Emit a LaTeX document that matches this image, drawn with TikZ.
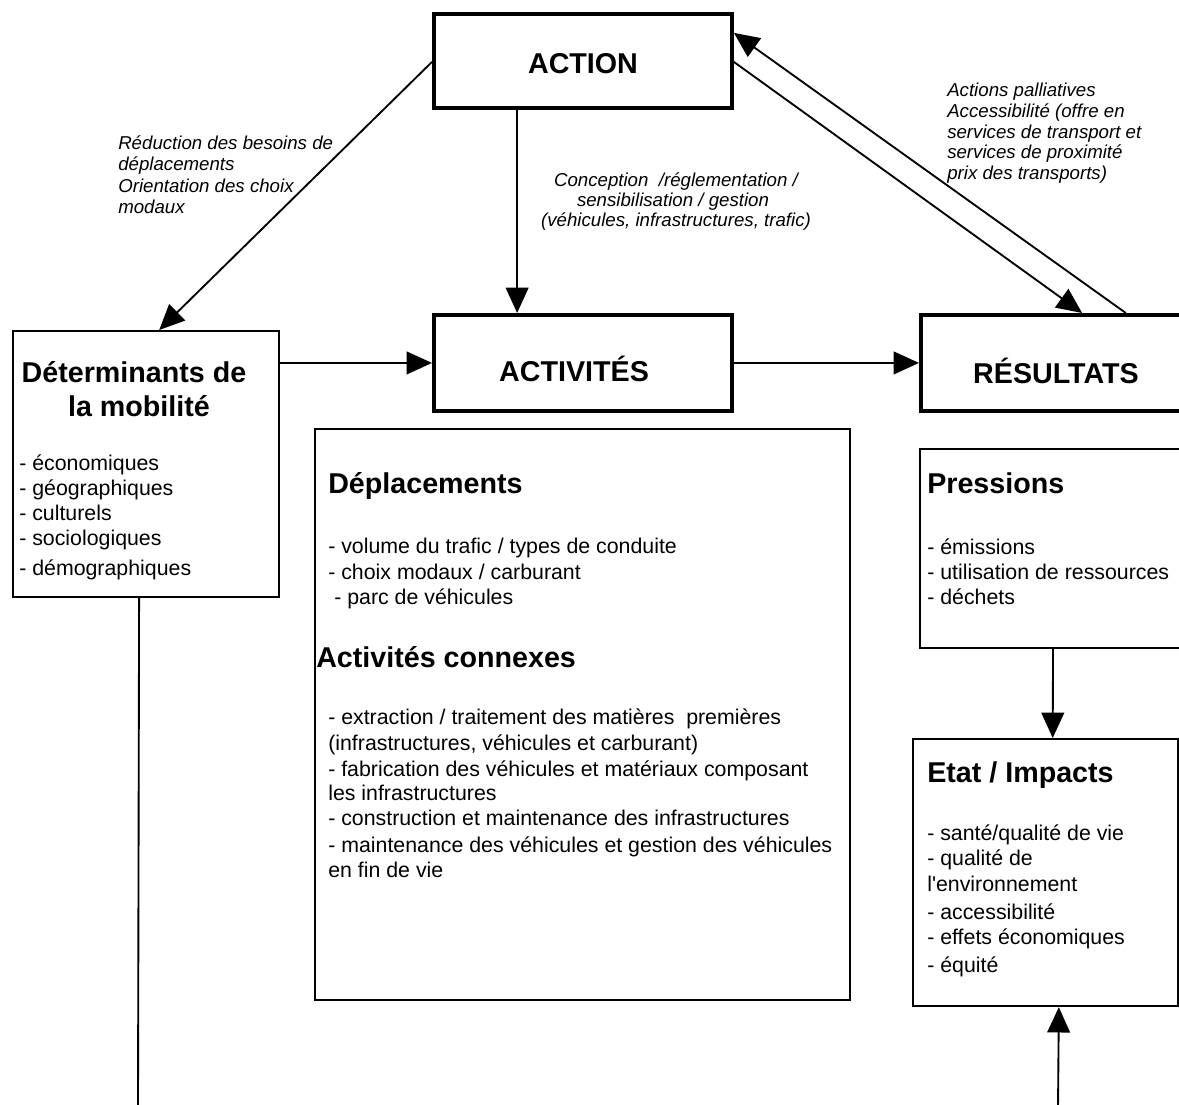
\documentclass[tikz,border=0pt]{standalone}
\usepackage{fontspec}
\setmainfont{Liberation Sans}
\usetikzlibrary{arrows.meta,calc}
\begin{document}
\begin{tikzpicture}[x=0.75pt,y=-0.75pt,
 thickbox/.style={draw,line width=2.9pt,inner sep=0,anchor=north west},
 thinbox/.style={draw,line width=1.6pt,inner sep=0,anchor=north west},
 conn/.style={line width=1.4pt,-{Triangle[length=19pt,width=17pt]}},
 plainline/.style={line width=1.4pt},
 title/.style={font=\fontsize{21.5}{25}\selectfont\bfseries,inner sep=0},
 body/.style={font=\fontsize{16}{19}\selectfont,inner sep=0,anchor=base west},
 lab/.style={font=\fontsize{14}{15.5}\selectfont\itshape,inner sep=0},
]
\useasboundingbox (0,0) rectangle (1179,1104);
\clip (0,0) rectangle (1179,1104);

% boxes
\node[thickbox,minimum width=223.5pt,minimum height=70.5pt] (action) at (432,12) {};
\node[thickbox,minimum width=223.5pt,minimum height=72pt] (activ) at (432,313) {};
\node[thickbox,minimum width=207pt,minimum height=72pt] (res) at (919,313) {};
\node[thinbox,minimum width=199.5pt,minimum height=199.5pt] (det) at (12,330) {};
\node[thinbox,minimum width=401.25pt,minimum height=428.25pt] (big) at (314,428) {};
\node[thinbox,minimum width=207pt,minimum height=149.25pt] (pres) at (919,448) {};
\node[thinbox,minimum width=199pt,minimum height=200.25pt] (etat) at (912,738) {};

\coordinate (bot1) at (138,1110);
\coordinate (bot2) at (1058,1110);

% connectors
\draw[conn] ($(action.north west)!0.51!(action.south west)$) -- ($(det.north west)!0.549!(det.north east)$);
\draw[conn] ($(action.south west)!0.282!(action.south east)$) -- ($(activ.north west)!0.282!(activ.north east)$);
\draw[conn] (det.east |- activ.west) -- (activ.west);
\draw[conn] (activ.east) -- (res.west);
\draw[conn] ($(res.north west)!0.739!(res.north east)$) -- ($(action.north east)!0.213!(action.south east)$);
\draw[conn] ($(action.north east)!0.51!(action.south east)$) -- ($(res.north west)!0.583!(res.north east)$);
\draw[conn] ($(pres.south west)!0.482!(pres.south east)$) -- ($(etat.north west)!0.526!(etat.north east)$);
\draw[conn] (bot2) -- ($(etat.south west)!0.549!(etat.south east)$);
\draw[plainline] ($(det.south west)!0.474!(det.south east)$) -- (bot1);

% titles
\node[title,anchor=base] (tAction) at (583,73) {ACTION};
\node[title,anchor=base] (tActiv) at (574,381) {ACTIVITÉS};
\node[title,anchor=base] (tRes) at (1056,383) {RÉSULTATS};
\node[title,anchor=base] (tDetA) at (134,382) {Déterminants de};
\node[title,anchor=base] (tDetB) at (139,416) {la mobilité};
\node[title,anchor=base west] (tDep) at (328,493) {Déplacements};
\node[title,anchor=base west] (tCon) at (316,667) {Activités connexes};
\node[title,anchor=base west] (tPre) at (927,493) {Pressions};
\node[title,anchor=base west] (tEtat) at (927,782) {Etat / Impacts};

% Déterminants list
\node[body] (d1) at (19,470) {- économiques};
\node[body] (d2) at (19,495) {- géographiques};
\node[body] (d3) at (19,520) {- culturels};
\node[body] (d4) at (19,545) {- sociologiques};
\node[body] (d5) at (19,575) {- démographiques};

% big box list
\node[body] (b1) at (328,553) {- volume du trafic / types de conduite};
\node[body] (b2) at (328,579) {- choix modaux / carburant};
\node[body] (b3) at (334,604) {- parc de véhicules};
\node[body] (b4) at (328,724) {- extraction / traitement des matières\ \ premières};
\node[body] (b5) at (328,750) {(infrastructures, véhicules et carburant)};
\node[body] (b6) at (328,776) {- fabrication des véhicules et matériaux composant};
\node[body] (b7) at (328,800) {les infrastructures};
\node[body] (b8) at (328,825) {- construction et maintenance des infrastructures};
\node[body] (b9) at (328,852) {- maintenance des véhicules et gestion des véhicules};
\node[body] (b10) at (328,877) {en fin de vie};

% Pressions list
\node[body] (p1) at (927,554) {- émissions};
\node[body] (p2) at (927,579) {- utilisation de ressources};
\node[body] (p3) at (927,604) {- déchets};

% Etat list
\node[body] (e1) at (927,840) {- santé/qualité de vie};
\node[body] (e2) at (927,865) {- qualité de};
\node[body] (e3) at (927,891) {l\XeTeXglyph\XeTeXcharglyph"27 environnement};
\node[body] (e4) at (927,919) {- accessibilité};
\node[body] (e5) at (927,944) {- effets économiques};
\node[body] (e6) at (927,972) {- équité};

% labels
\node[lab,anchor=base west] (r1) at (118,149) {Réduction des besoins de};
\node[lab,anchor=base west] (r2) at (118,170) {déplacements};
\node[lab,anchor=base west] (r3) at (118,192) {Orientation des choix};
\node[lab,anchor=base west] (r4) at (118,213) {modaux};

\node[lab,anchor=base] (c1) at (676,186) {Conception\ \ /réglementation /};
\node[lab,anchor=base] (c2) at (673,206) {sensibilisation / gestion};
\node[lab,anchor=base] (c3) at (676,226) {(véhicules, infrastructures, trafic)};

\node[lab,anchor=base west] (a1) at (947,96) {Actions palliatives};
\node[lab,anchor=base west] (a2) at (947,117) {Accessibilité (offre en};
\node[lab,anchor=base west] (a3) at (947,138) {services de transport et};
\node[lab,anchor=base west] (a4) at (947,158) {services de proximité};
\node[lab,anchor=base west] (a5) at (947,179) {prix des transports)};
\end{tikzpicture}
\end{document}
